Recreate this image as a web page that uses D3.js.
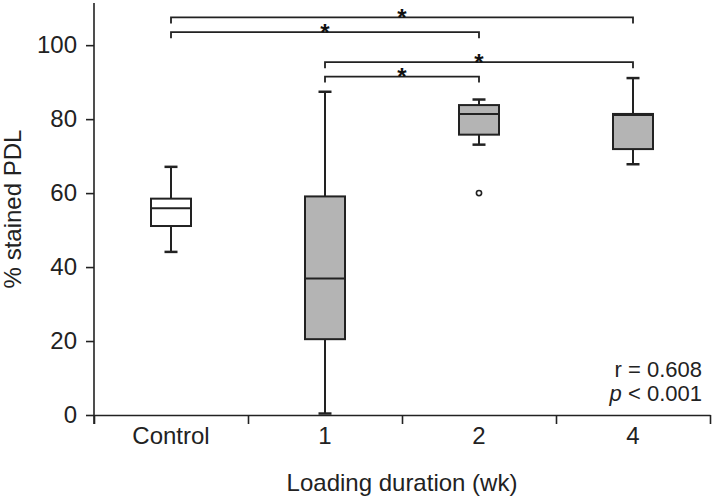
<!DOCTYPE html>
<html>
<head>
<meta charset="utf-8">
<script src="https://cdn.jsdelivr.net/npm/d3@7"></script>
<style>
  html, body { margin: 0; padding: 0; background: #fff; }
  svg { display: block; font-family: "Liberation Sans", Arial, sans-serif; }
</style>
</head>
<body>
<svg id="chart" width="712" height="500"></svg>
<script>
// ---- data ----
const categories   = ["Control", "1", "2", "4"];
const whiskerLow   = [44.1, 0.4, 73.1, 67.8];
const q1           = [51.1, 20.5, 75.8, 71.9];
const median       = [55.9, 36.9, 81.4, 81.1];
const q3           = [58.5, 59.1, 83.8, 81.4];
const whiskerHigh  = [67.1, 87.4, 85.3, 91.1];
const outliers     = [[], [], [60.0], []];
const yTicks       = [0, 20, 40, 60, 80, 100];
const brackets     = [
  { from: "Control", to: "4", level: 107.5 },
  { from: "Control", to: "2", level: 103.5 },
  { from: "1",       to: "4", level: 95.4 },
  { from: "1",       to: "2", level: 91.5 }
];
const statLines    = ["r = 0.608", "p < 0.001"];
const xTitle = "Loading duration (wk)";
const yTitle = "% stained PDL";

// ---- layout ----
const ink = "#222";
const svg = d3.select("#chart");
const x0 = 94, x1 = 710, yBase = 415, yTop = 3;

const x = d3.scaleBand().domain(categories).range([x0, x1]);
const xEdges = d3.scaleLinear().domain([0, categories.length]).range([x0, x1]);
const y = d3.scaleLinear().domain([0, 111.4]).range([yBase, yTop]);
const cx = c => x(c) + x.bandwidth() / 2;

// y axis
const gy = svg.append("g").attr("transform", `translate(${x0},0)`)
  .call(d3.axisLeft(y).tickValues(yTicks).tickSize(8).tickPadding(9).tickSizeOuter(0));
gy.select(".domain").attr("stroke", ink).attr("stroke-width", 1.6)
  .attr("d", `M0,${yTop}V${yBase + 9}`);
gy.selectAll(".tick line").attr("stroke", ink).attr("stroke-width", 1.6);
gy.selectAll(".tick text").attr("fill", ink).style("font-size", "24px")
  .style("font-family", "'Liberation Sans', Arial, sans-serif");

// x axis: boundary ticks
const gx = svg.append("g").attr("transform", `translate(0,${yBase})`)
  .call(d3.axisBottom(xEdges).ticks(categories.length).tickSize(9).tickFormat("").tickSizeOuter(0));
gx.select(".domain").attr("stroke", ink).attr("stroke-width", 1.6);
gx.selectAll(".tick line").attr("stroke", ink).attr("stroke-width", 1.6);

// x labels
const gxl = svg.append("g").attr("transform", `translate(0,${yBase})`)
  .call(d3.axisBottom(x).tickSize(0).tickPadding(12));
gxl.select(".domain").remove();
gxl.selectAll(".tick text").attr("fill", ink).style("font-size", "24px")
  .style("font-family", "'Liberation Sans', Arial, sans-serif");

// axis titles
svg.append("text").attr("x", (x0 + x1) / 2 + 0).attr("y", 491)
  .attr("text-anchor", "middle").attr("fill", ink).style("font-size", "24px")
  .text(xTitle);
svg.append("text").attr("transform", `translate(21,${(yTop + yBase) / 2}) rotate(-90)`)
  .attr("text-anchor", "middle").attr("fill", ink).style("font-size", "24px")
  .text(yTitle);

// boxes
const boxW = 40, capW = 13;
const data = categories.map((c, i) => ({
  c, i, lo: whiskerLow[i], q1: q1[i], med: median[i], q3: q3[i], hi: whiskerHigh[i], out: outliers[i]
}));
const g = svg.append("g");
data.forEach(d => {
  const xc = cx(d.c);
  const s = g.append("g").attr("stroke", ink).attr("stroke-width", 2);
  // whiskers
  s.append("line").attr("x1", xc).attr("x2", xc).attr("y1", y(d.q3)).attr("y2", y(d.hi));
  s.append("line").attr("x1", xc).attr("x2", xc).attr("y1", y(d.q1)).attr("y2", y(d.lo));
  s.append("line").attr("x1", xc - capW / 2).attr("x2", xc + capW / 2).attr("y1", y(d.hi)).attr("y2", y(d.hi)).attr("stroke-width", 2.5);
  s.append("line").attr("x1", xc - capW / 2).attr("x2", xc + capW / 2).attr("y1", y(d.lo)).attr("y2", y(d.lo)).attr("stroke-width", 2.5);
  // box
  s.append("rect").attr("x", xc - boxW / 2).attr("width", boxW)
    .attr("y", y(d.q3)).attr("height", y(d.q1) - y(d.q3))
    .attr("fill", d.i === 0 ? "#ffffff" : "#b4b4b4");
  // median
  s.append("line").attr("x1", xc - boxW / 2).attr("x2", xc + boxW / 2)
    .attr("y1", y(d.med)).attr("y2", y(d.med));
  // outliers
  d.out.forEach(v => {
    s.append("circle").attr("cx", xc).attr("cy", y(v)).attr("r", 2.6)
      .attr("fill", "#fff").attr("stroke-width", 1.6);
  });
});

// significance brackets
const gb = svg.append("g");
brackets.forEach(b => {
  const xa = cx(b.from), xb = cx(b.to), yl = y(b.level);
  gb.append("path").attr("d", `M${xa},${yl + 6}V${yl}H${xb}V${yl + 6}`)
    .attr("fill", "none").attr("stroke", ink).attr("stroke-width", 1.8);
  gb.append("text").attr("x", (xa + xb) / 2).attr("y", yl + 8.8)
    .attr("text-anchor", "middle").attr("fill", "#111")
    .style("font-size", "24px").style("font-weight", "bold").text("*");
});

// stats annotation
const t1 = svg.append("text").attr("x", 702).attr("y", 377).attr("text-anchor", "end")
  .attr("fill", ink).style("font-size", "22px").text(statLines[0]);
const t2 = svg.append("text").attr("x", 702).attr("y", 401).attr("text-anchor", "end")
  .attr("fill", ink).style("font-size", "22px");
const parts = statLines[1].split(" ");
t2.append("tspan").style("font-style", "italic").text(parts[0]);
t2.append("tspan").text(" " + parts.slice(1).join(" "));
</script>
</body>
</html>
